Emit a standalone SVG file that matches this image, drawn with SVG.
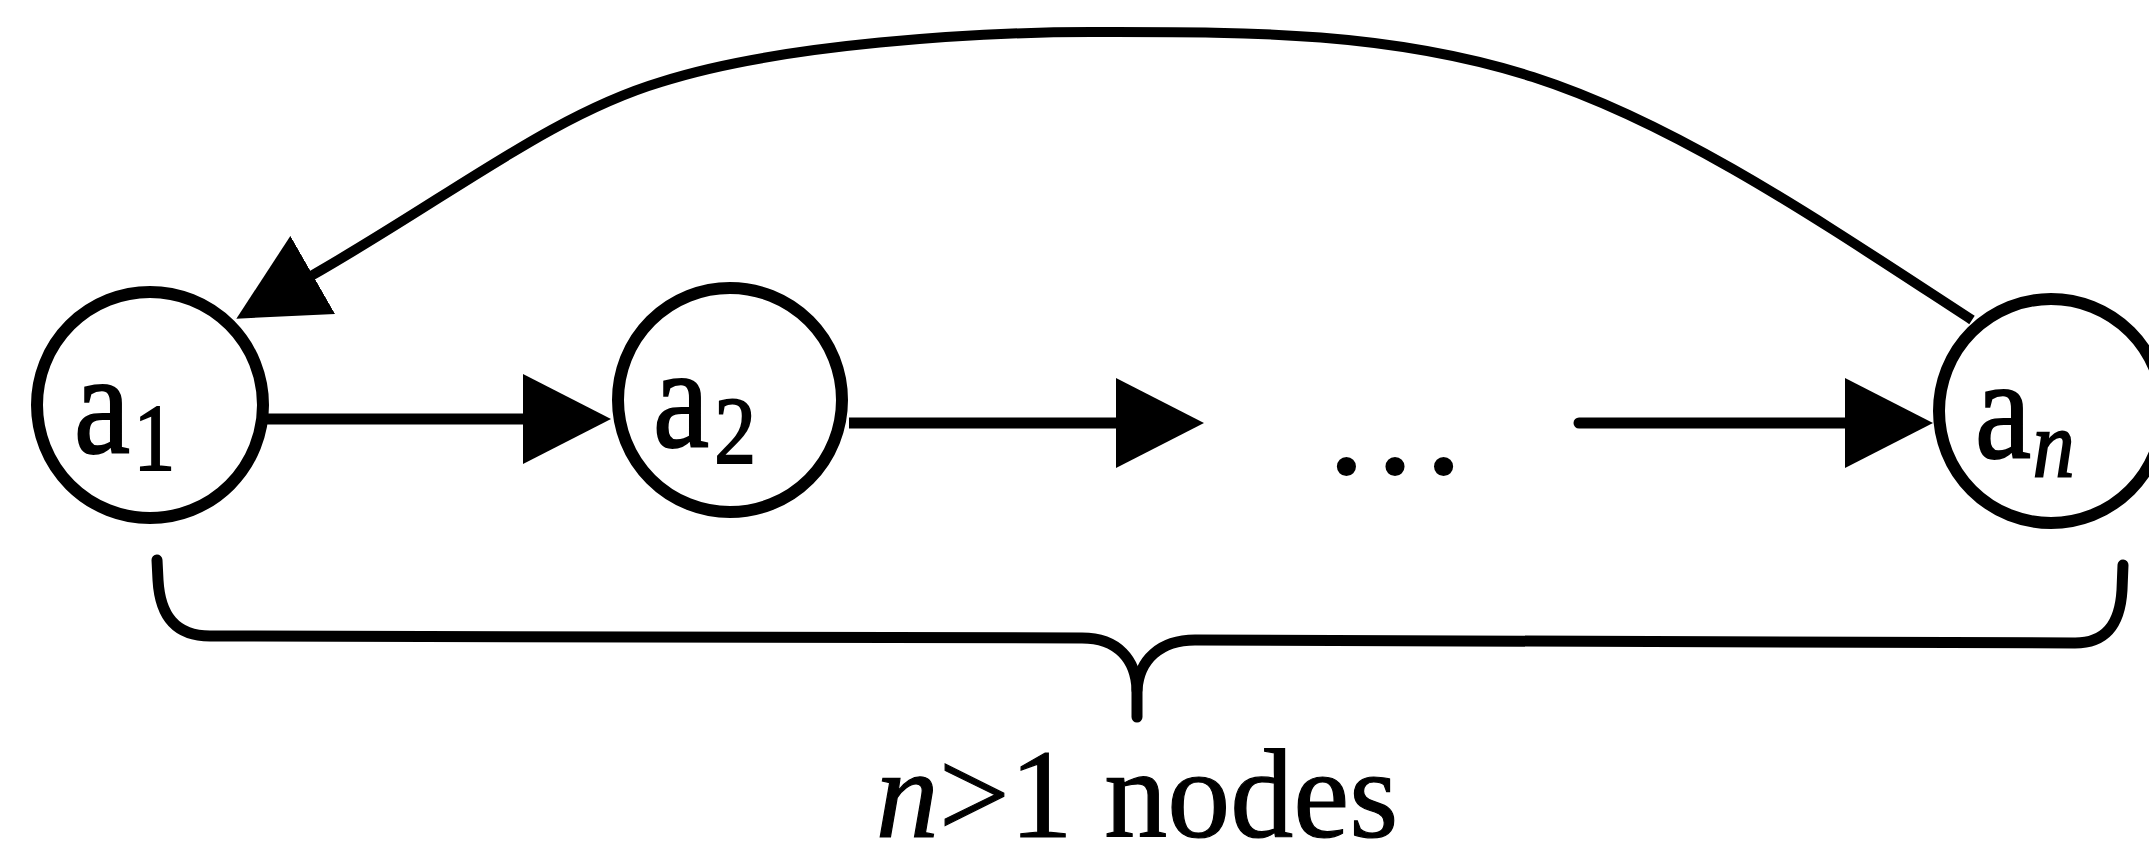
<svg xmlns="http://www.w3.org/2000/svg" width="2149" height="847" viewBox="0 0 2149 847">
  <style>
    .node circle { fill: #fff; stroke: #000; stroke-width: 12; }
    .lbl { font-family: "Liberation Serif", "Times New Roman", serif; font-size: 145px; fill: #000; stroke: #000; stroke-width: 2; }
    .sub { font-size: 96px; }
    .edge { fill: none; stroke: #000; stroke-width: 11; }
    .edge.back { stroke-width: 10; }
    .brace { fill: none; stroke: #000; stroke-width: 11; stroke-linecap: round; stroke-linejoin: round; }
    .caption { font-family: "Liberation Serif", "Times New Roman", serif; font-size: 126px; fill: #000; stroke: #000; stroke-width: 1.2; }
  </style>
  <defs>
    <marker id="head" viewBox="0 0 88 90" refX="2" refY="45" markerWidth="88" markerHeight="90" markerUnits="userSpaceOnUse" orient="auto">
      <path d="M0,0 L88,45 L0,90 Z" fill="#000"/>
    </marker>
  </defs>
  <rect width="2149" height="847" fill="#fff"/>

  <!-- nodes -->
  <g id="node-a1" class="node">
    <circle cx="150" cy="405" r="113"/>
    <text class="lbl" transform="translate(74 453) scale(0.87 1)">a<tspan class="sub" dx="4" dy="17">1</tspan></text>
  </g>
  <g id="node-a2" class="node">
    <circle cx="730" cy="400" r="112"/>
    <text class="lbl" transform="translate(653 447) scale(0.87 1)">a<tspan class="sub" dx="6" dy="16">2</tspan></text>
  </g>
  <g id="node-an" class="node">
    <circle cx="2051" cy="411" r="112"/>
    <text class="lbl" transform="translate(1975 458) scale(0.87 1)">a<tspan class="sub" dx="2" dy="19" font-style="italic">n</tspan></text>
  </g>
  <g id="ellipsis">
    <text class="lbl" x="1395" y="473" text-anchor="middle" font-size="132">…</text>
  </g>

  <!-- connectors -->
  <g id="edges">
    <path class="edge" d="M262,419 L525,419" marker-end="url(#head)"/>
    <path class="edge" d="M849,423 L1118,423" marker-end="url(#head)"/>
    <path class="edge" d="M1579,423 L1847,423" marker-end="url(#head)" stroke-linecap="round"/>
    <!-- feedback edge from a_n back to a_1 -->
    <path class="edge back" marker-end="url(#head)"
      d="M1972,320
         C1826,225 1679,124 1533,77
         C1386,30 1238,32 1091,32
         C981,32 781,43.6 661,82
         C551,115 451,196 311,276"/>
  </g>

  <!-- brace spanning the cycle -->
  <g id="brace">
    <path class="brace" d="M157,560 L158,580 C160,615 175,636 210,636 L1082,638 C1118,638 1136,660 1137,690 L1137,717"/>
    <path class="brace" d="M1137,690 C1139,660 1160,640 1195,640 L2075,643 C2105,643 2120,625 2122,590 L2123,565"/>
    <text class="caption" x="1137" y="837" text-anchor="middle"><tspan font-style="italic">n</tspan>&gt;1 nodes</text>
  </g>
</svg>
